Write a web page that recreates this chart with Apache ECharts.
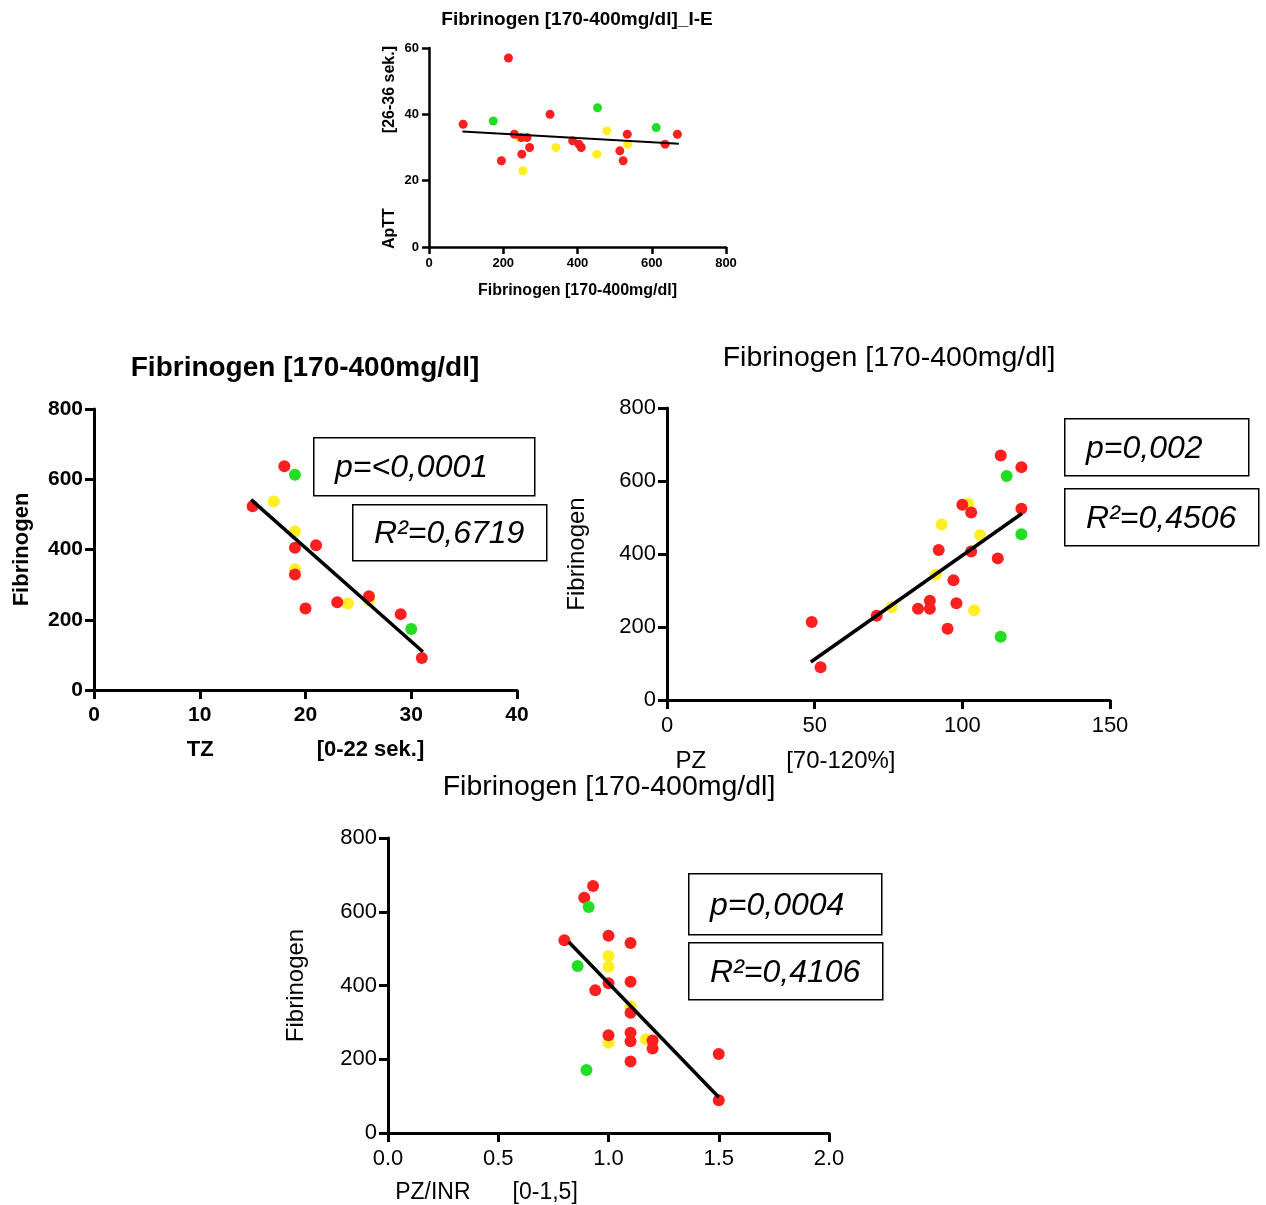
<!DOCTYPE html>
<html>
<head>
<meta charset="utf-8">
<script src="https://cdn.jsdelivr.net/npm/echarts@6/dist/echarts.min.js"></script>
<style>
  html, body { margin: 0; padding: 0; background: #ffffff; }
  #chart { width: 1266px; height: 1205px; }
</style>
</head>
<body>
<div id="chart"></div>
<script>
// ---------- Data ----------
// Chart A: ApTT vs Fibrinogen
const aRedX = [92, 214, 195, 230, 249, 264, 250, 271, 326, 387, 404, 410, 514, 523, 534, 636, 669];
const aRedY = [37, 57, 26, 34, 33, 33, 28, 30, 40, 32, 31, 30, 29, 26, 34, 31, 34];
const aYellowX = [243, 253, 342, 452, 479, 535];
const aYellowY = [33, 23, 30, 28, 35, 31];
const aGreenX = [173, 454, 612];
const aGreenY = [38, 42, 36];
const aFitX = [90, 673];
const aFitY = [34.8, 31.1];

// Chart B: Fibrinogen vs TZ
const bRedX = [18, 15, 19, 21, 19, 20, 23, 26, 29, 31];
const bRedY = [637, 523, 405, 412, 329, 232, 250, 267, 216, 91];
const bYellowX = [17, 19, 19, 24, 26];
const bYellowY = [537, 452, 344, 246, 255];
const bGreenX = [19, 30];
const bGreenY = [613, 174];
const bFitX = [14.85, 31.1];
const bFitY = [542, 109];

// Chart C: Fibrinogen vs PZ
const cRedX = [49, 52, 71, 85, 89, 89, 92, 95, 97, 98, 100, 103, 103, 112, 113, 120, 120];
const cRedY = [214, 90, 231, 250, 272, 250, 411, 195, 328, 265, 535, 514, 407, 388, 670, 638, 524];
const cYellowX = [76, 91, 93, 102, 104, 106];
const cYellowY = [254, 343, 481, 538, 246, 452];
const cGreenX = [113, 115, 120];
const cGreenY = [173, 614, 454];
const cFitX = [48.7, 120.2];
const cFitY = [104, 511];

// Chart D: Fibrinogen vs PZ/INR
const dRedX = [0.93, 0.89, 0.80, 1.0, 1.1, 1.0, 1.1, 0.94, 1.1, 1.0, 1.1, 1.1, 1.2, 1.2, 1.1, 1.5, 1.5];
const dRedY = [670, 638, 523, 535, 515, 406, 410, 387, 326, 265, 272, 249, 251, 229, 194, 214, 89];
const dYellowX = [1.0, 1.0, 1.1, 1.0, 1.17];
const dYellowY = [480, 451, 344, 245, 254];
const dGreenX = [0.91, 0.86, 0.90];
const dGreenY = [613, 453, 171];
const dFitX = [0.82, 1.5];
const dFitY = [518, 97];

// Titles and labels
const titleA = 'Fibrinogen [170-400mg/dl]_I-E';
const titleMain = 'Fibrinogen [170-400mg/dl]';
const statsB = ['p=<0,0001', 'R²=0,6719'];
const statsC = ['p=0,002', 'R²=0,4506'];
const statsD = ['p=0,0004', 'R²=0,4106'];

// ---------- Helpers ----------
const RED = '#ff1f1f', YELLOW = '#ffee22', GREEN = '#22dd22';
const FONT = '"Liberation Sans", Arial, Helvetica, sans-serif';
function pts(xs, ys) { return xs.map((x, i) => [x, ys[i]]); }

function scatterSet(idx, sets, size, fitX, fitY, lw) {
  const out = [];
  sets.forEach(s => out.push({
    type: 'scatter', xAxisIndex: idx, yAxisIndex: idx,
    data: pts(s.x, s.y), symbolSize: size,
    itemStyle: { color: s.c, opacity: 1 }, silent: true, z: 3
  }));
  out.push({
    type: 'line', xAxisIndex: idx, yAxisIndex: idx,
    data: pts(fitX, fitY), showSymbol: false, symbol: 'none',
    lineStyle: { color: '#000', width: lw }, silent: true, z: 4
  });
  return out;
}

function axisStyle(w, tickLen, labelSize, bold, margin) {
  return {
    axisLine: { show: true, onZero: false, lineStyle: { color: '#000', width: w } },
    axisTick: { show: true, length: tickLen, lineStyle: { color: '#000', width: w } },
    axisLabel: { color: '#000', fontSize: labelSize, fontWeight: bold ? 'bold' : 'normal', fontFamily: FONT, margin: margin },
    splitLine: { show: false }
  };
}

function box(x, y, w, h, text, fs) {
  return [
    { type: 'rect', left: x, top: y, shape: { width: w, height: h },
      style: { fill: '#fff', stroke: '#000', lineWidth: 1.5 }, z: 10 },
    { type: 'text', left: x + 22, top: y + h / 2 - fs * 0.42,
      style: { text: text, font: 'italic ' + fs + 'px ' + FONT, fill: '#000' }, z: 11 }
  ];
}

function titleStyle(size, bold) {
  return { fontSize: size, fontWeight: bold ? 'bold' : 'normal', fontFamily: FONT, color: '#000' };
}

const option = {
  backgroundColor: '#ffffff',
  animation: false,
  title: [
    { text: titleA, left: 577, top: 10, textAlign: 'center', padding: 0, textStyle: titleStyle(19, true) },
    { text: titleMain, left: 305, top: 354, textAlign: 'center', padding: 0, textStyle: titleStyle(28, true) },
    { text: titleMain, left: 889, top: 344, textAlign: 'center', padding: 0, textStyle: titleStyle(28.5, false) },
    { text: titleMain, left: 609, top: 773, textAlign: 'center', padding: 0, textStyle: titleStyle(28.5, false) }
  ],
  grid: [
    { left: 429, top: 48, width: 297, height: 199, containLabel: false },
    { left: 94, top: 409, width: 423, height: 281, containLabel: false },
    { left: 667, top: 408, width: 443, height: 292, containLabel: false },
    { left: 388, top: 838, width: 441, height: 295, containLabel: false }
  ],
  xAxis: [
    Object.assign({ type: 'value', gridIndex: 0, min: 0, max: 800, interval: 200,
      name: 'Fibrinogen [170-400mg/dl]', nameLocation: 'middle', nameGap: 36,
      nameTextStyle: { fontSize: 16, fontWeight: 'bold', fontFamily: FONT, color: '#000' } },
      axisStyle(2.5, 7, 13, true, 10)),
    Object.assign({ type: 'value', gridIndex: 1, min: 0, max: 40, interval: 10,
      name: '{a|TZ}{g|}{b|[0-22 sek.]}', nameLocation: 'middle', nameGap: 49,
      nameTextStyle: { fontSize: 22, fontWeight: 'bold', fontFamily: FONT, color: '#000',
        rich: { a: { fontSize: 22, fontWeight: 'bold', fontFamily: FONT },
                g: { width: 103 },
                b: { fontSize: 22, fontWeight: 'bold', fontFamily: FONT } } } },
      axisStyle(3, 9, 21, true, 15)),
    Object.assign({ type: 'value', gridIndex: 2, min: 0, max: 150, interval: 50,
      name: '{a|PZ}{g|}{b|[70-120%]}{t|}', nameLocation: 'middle', nameGap: 49,
      nameTextStyle: { fontSize: 24, fontFamily: FONT, color: '#000',
        rich: { a: { fontSize: 24, fontFamily: FONT }, g: { width: 80 },
                b: { fontSize: 24, fontFamily: FONT }, t: { width: 206 } } } },
      axisStyle(3, 9, 22, false, 15)),
    Object.assign({ type: 'value', gridIndex: 3, min: 0, max: 2, interval: 0.5,
      name: '{a|PZ/INR}{g|}{b|[0-1,5]}{t|}', nameLocation: 'middle', nameGap: 48,
      nameTextStyle: { fontSize: 23, fontFamily: FONT, color: '#000',
        rich: { a: { fontSize: 23, fontFamily: FONT }, g: { width: 42 },
                b: { fontSize: 23, fontFamily: FONT }, t: { width: 244 } } } },
      axisStyle(3, 9, 22, false, 15))
  ],
  yAxis: [
    Object.assign({ type: 'value', gridIndex: 0, min: 0, max: 60, interval: 20,
      name: '{a|ApTT}{g|}{b|[26-36 sek.]}', nameLocation: 'middle', nameGap: 31, nameRotate: 90,
      nameTextStyle: { fontSize: 16, fontWeight: 'bold', fontFamily: FONT, color: '#000',
        rich: { a: { fontSize: 16, fontWeight: 'bold', fontFamily: FONT }, g: { width: 75 },
                b: { fontSize: 16, fontWeight: 'bold', fontFamily: FONT } } } },
      axisStyle(2.5, 7, 13, true, 10)),
    Object.assign({ type: 'value', gridIndex: 1, min: 0, max: 800, interval: 200,
      name: 'Fibrinogen', nameLocation: 'middle', nameGap: 61, nameRotate: 90,
      nameTextStyle: { fontSize: 22, fontWeight: 'bold', fontFamily: FONT, color: '#000' } },
      axisStyle(3, 9, 21, true, 11)),
    Object.assign({ type: 'value', gridIndex: 2, min: 0, max: 800, interval: 200,
      name: 'Fibrinogen', nameLocation: 'middle', nameGap: 78, nameRotate: 90,
      nameTextStyle: { fontSize: 24, fontFamily: FONT, color: '#000' } },
      axisStyle(3, 9, 22, false, 11)),
    Object.assign({ type: 'value', gridIndex: 3, min: 0, max: 800, interval: 200,
      name: 'Fibrinogen', nameLocation: 'middle', nameGap: 80, nameRotate: 90,
      nameTextStyle: { fontSize: 24, fontFamily: FONT, color: '#000' } },
      axisStyle(3, 9, 22, false, 11))
  ],
  series: [].concat(
    scatterSet(0, [{ x: aYellowX, y: aYellowY, c: YELLOW }, { x: aRedX, y: aRedY, c: RED }, { x: aGreenX, y: aGreenY, c: GREEN }], 9, aFitX, aFitY, 2),
    scatterSet(1, [{ x: bYellowX, y: bYellowY, c: YELLOW }, { x: bRedX, y: bRedY, c: RED }, { x: bGreenX, y: bGreenY, c: GREEN }], 12, bFitX, bFitY, 3.5),
    scatterSet(2, [{ x: cYellowX, y: cYellowY, c: YELLOW }, { x: cRedX, y: cRedY, c: RED }, { x: cGreenX, y: cGreenY, c: GREEN }], 12, cFitX, cFitY, 3.5),
    scatterSet(3, [{ x: dYellowX, y: dYellowY, c: YELLOW }, { x: dRedX, y: dRedY, c: RED }, { x: dGreenX, y: dGreenY, c: GREEN }], 12, dFitX, dFitY, 3.5)
  ),
  graphic: [].concat(
    box(313, 437, 221, 58, statsB[0], 32),
    box(352, 504, 194, 56, statsB[1], 32),
    box(1064, 418, 184, 57, statsC[0], 32),
    box(1064, 488, 194, 57, statsC[1], 32),
    box(688, 873, 193, 61, statsD[0], 32),
    box(688, 942, 194, 57, statsD[1], 32)
  )
};

// x-axis labels for chart D with one decimal
option.xAxis[3].axisLabel.formatter = v => v.toFixed(1);

const chart = echarts.init(document.getElementById('chart'), null, { renderer: 'canvas' });
chart.setOption(option);
</script>
</body>
</html>
